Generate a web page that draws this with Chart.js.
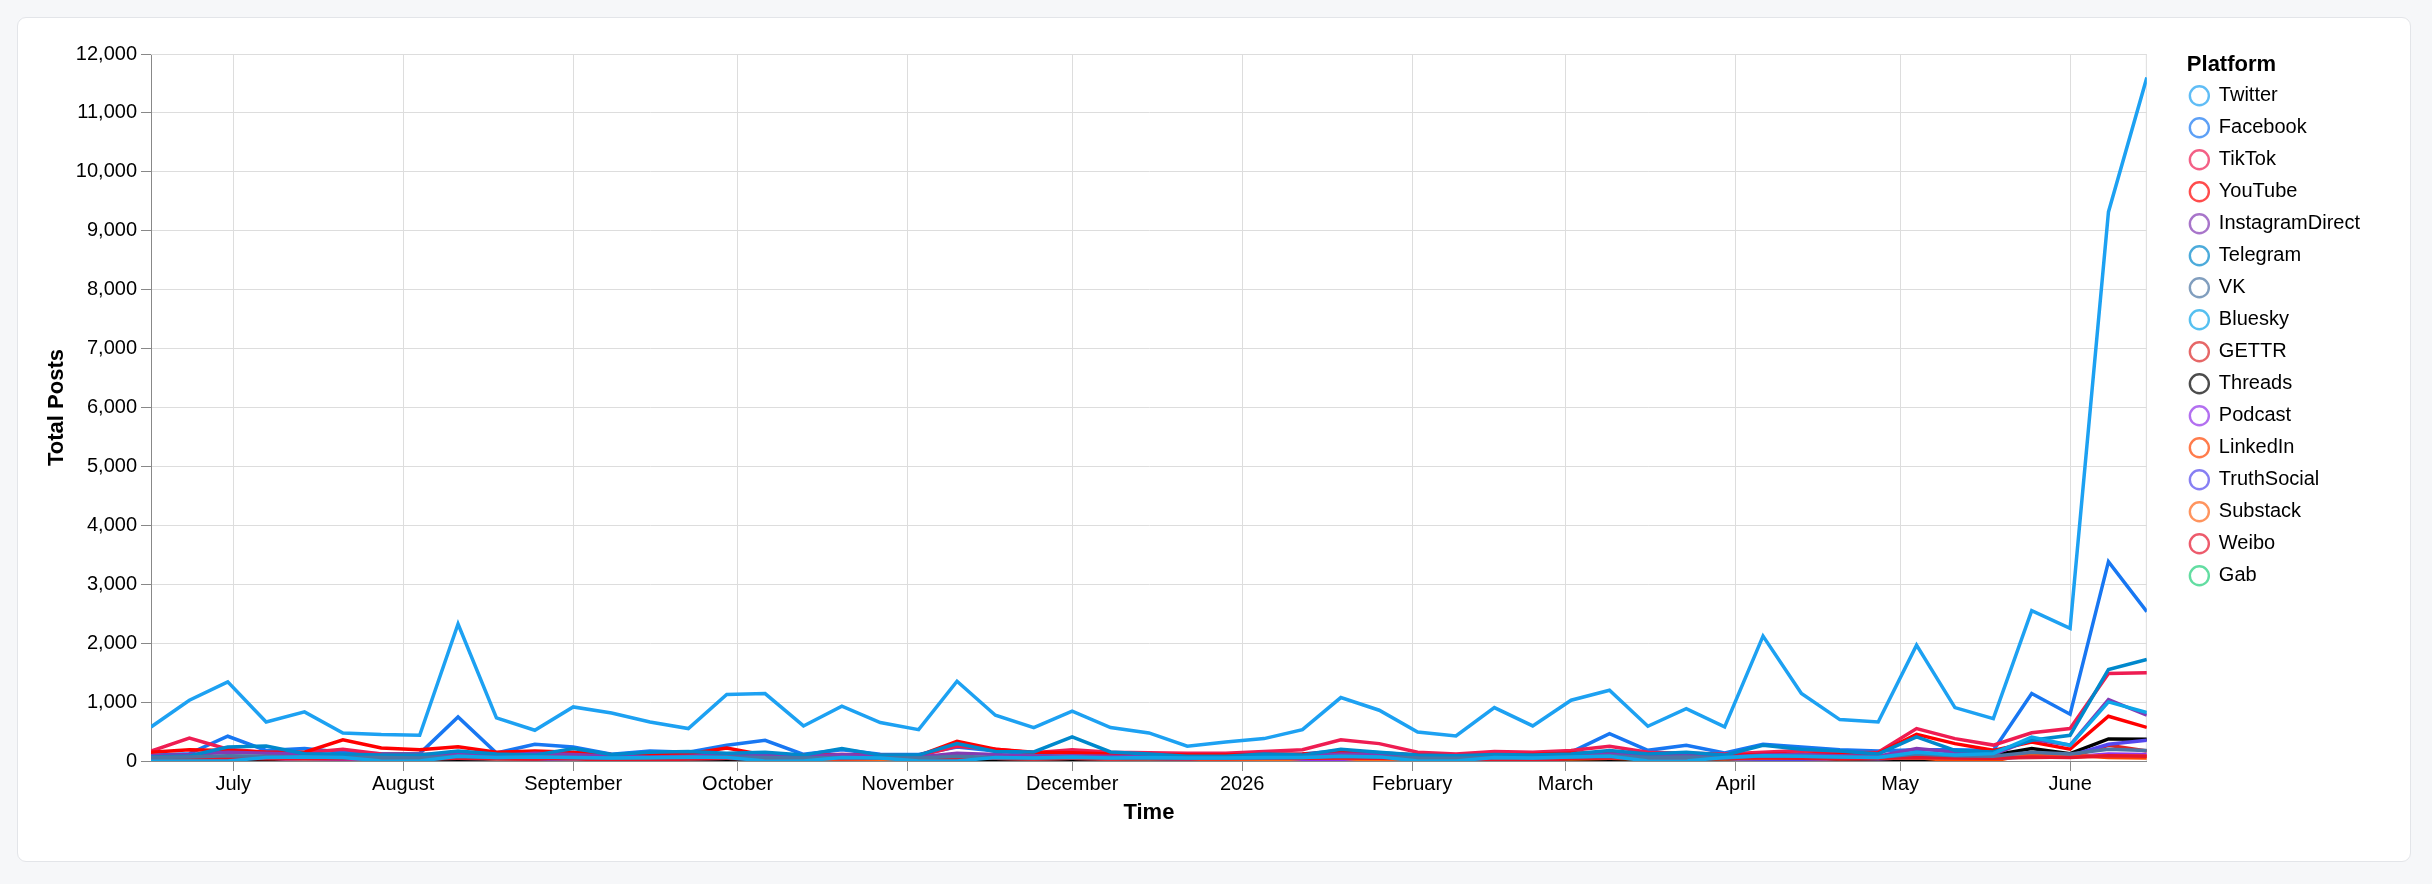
<!DOCTYPE html>
<html>
<head>
<meta charset="utf-8">
<title>Total Posts by Platform</title>
<script src="https://cdn.jsdelivr.net/npm/chart.js@4.4.1/dist/chart.umd.min.js"></script>
<style>
  html, body { margin: 0; padding: 0; background: #f6f7f9; }
  body { width: 2432px; height: 884px; position: relative; overflow: hidden; }
  .card { position: absolute; left: 17px; top: 17px; width: 2394px; height: 845px; box-sizing: border-box;
          background: #fff; border: 1px solid #e3e5e9; border-radius: 9px; }
  #chart { position: absolute; left: 0; top: 0; }
</style>
</head>
<body>
<div class="card"></div>
<canvas id="chart" width="2432" height="884"></canvas>
<script>
// weekly buckets (Mondays)
const weeks = [
  "2025-06-16", "2025-06-23", "2025-06-30", "2025-07-07", "2025-07-14", "2025-07-21", "2025-07-28",
  "2025-08-04", "2025-08-11", "2025-08-18", "2025-08-25", "2025-09-01", "2025-09-08", "2025-09-15",
  "2025-09-22", "2025-09-29", "2025-10-06", "2025-10-13", "2025-10-20", "2025-10-27", "2025-11-03",
  "2025-11-10", "2025-11-17", "2025-11-24", "2025-12-01", "2025-12-08", "2025-12-15", "2025-12-22",
  "2025-12-29", "2026-01-05", "2026-01-12", "2026-01-19", "2026-01-26", "2026-02-02", "2026-02-09",
  "2026-02-16", "2026-02-23", "2026-03-02", "2026-03-09", "2026-03-16", "2026-03-23", "2026-03-30",
  "2026-04-06", "2026-04-13", "2026-04-20", "2026-04-27", "2026-05-04", "2026-05-11", "2026-05-18",
  "2026-05-25", "2026-06-01", "2026-06-08", "2026-06-15"
];

const monthTicks = ["2025-07-01", "2025-08-01", "2025-09-01", "2025-10-01", "2025-11-01", "2025-12-01",
  "2026-01-01", "2026-02-01", "2026-03-01", "2026-04-01", "2026-05-01", "2026-06-01"];
const monthLabels = ["July", "August", "September", "October", "November", "December",
  "2026", "February", "March", "April", "May", "June"];

const platforms = ["Twitter", "Facebook", "TikTok", "YouTube", "InstagramDirect", "Telegram", "VK", "Bluesky",
  "GETTR", "Threads", "Podcast", "LinkedIn", "TruthSocial", "Substack", "Weibo", "Gab"];

const twitter = [578, 1032, 1344, 663, 833, 476, 448, 437, 2325, 731, 522, 918, 816, 663, 550, 1128, 1145, 595,
  930, 652, 533, 1355, 777, 567, 845, 567, 476, 250, 323, 380, 533, 1077, 862, 493, 425, 907, 595, 1032, 1202,
  590, 890, 578, 2120, 1145, 703, 663, 1967, 907, 720, 2550, 2250, 9320, 11600];
const facebook = [96, 125, 420, 180, 210, 150, 125, 125, 748, 136, 283, 238, 113, 170, 150, 266, 350, 113,
  190, 113, 110, 238, 170, 120, 150, 113, 120, 100, 105, 110, 120, 180, 140, 100, 105, 110, 115, 150, 465,
  181, 266, 136, 283, 238, 193, 170, 193, 190, 180, 1145, 794, 3385, 2535];
const tiktok = [170, 390, 200, 150, 140, 200, 120, 110, 130, 100, 90, 100, 95, 90, 100, 120, 110, 100, 110,
  100, 90, 250, 200, 140, 190, 150, 140, 130, 130, 160, 190, 360, 295, 150, 120, 160, 150, 180, 250, 150, 130,
  120, 150, 180, 140, 150, 550, 380, 270, 480, 550, 1485, 1497];
const youtube = [150, 190, 180, 150, 150, 360, 220, 190, 240, 150, 170, 150, 110, 100, 120, 220, 100, 90, 100,
  90, 90, 335, 200, 150, 140, 120, 110, 100, 100, 110, 120, 150, 130, 100, 90, 100, 110, 130, 150, 120, 100,
  90, 110, 120, 110, 130, 453, 295, 181, 323, 200, 760, 570];
const instagramDirect = [90, 110, 150, 130, 120, 100, 90, 80, 110, 90, 130, 110, 80, 70, 80, 100, 90, 80, 110,
  90, 70, 130, 110, 80, 90, 80, 70, 60, 60, 80, 90, 120, 110, 70, 60, 80, 70, 90, 120, 80, 90, 70, 100, 110,
  90, 80, 210, 150, 110, 368, 270, 1043, 777];
const telegram = [70, 85, 238, 255, 125, 115, 100, 100, 170, 120, 100, 210, 110, 150, 160, 130, 150, 100, 210,
  100, 100, 295, 160, 153, 408, 153, 120, 80, 80, 120, 100, 200, 150, 100, 90, 110, 100, 120, 180, 120, 150,
  100, 266, 200, 170, 120, 408, 180, 153, 351, 437, 1554, 1724];
const vk = [60, 70, 90, 80, 70, 60, 60, 50, 80, 60, 70, 60, 50, 50, 60, 70, 60, 50, 60, 50, 50, 80, 60, 50, 60,
  50, 50, 45, 45, 50, 60, 80, 70, 50, 45, 60, 50, 70, 90, 60, 70, 50, 90, 80, 70, 60, 120, 90, 80, 150, 120,
  200, 180];
const bluesky = [0, 0, 0, 60, 70, 60, 0, 0, 80, 60, 70, 60, 50, 60, 70, 60, 0, 0, 60, 50, 0, 0, 60, 50, 70, 50,
  60, 50, 50, 60, 60, 80, 70, 0, 0, 60, 50, 70, 80, 0, 0, 60, 90, 80, 70, 60, 150, 100, 125, 408, 266, 1003, 822];
const gettr = [50, 60, 55, 50, 45, 50, 50, 45, 0, 0, 0, 0, 45, 50, 45, 50, 45, 50, 45, 50, 45, 55, 50, 45, 0,
  0, 0, 45, 40, 45, 50, 50, 45, 45, 40, 45, 50, 45, 0, 0, 45, 50, 45, 50, 45, 50, 70, 55, 50, 60, 68, 266, 170];
const threads = [40, 50, 0, 0, 0, 60, 50, 0, 0, 45, 50, 40, 45, 0, 0, 0, 0, 50, 40, 45, 50, 0, 0, 0, 0, 50, 0,
  0, 0, 0, 0, 0, 0, 45, 40, 50, 0, 0, 0, 45, 0, 0, 0, 0, 0, 0, 0, 0, 96, 210, 125, 374, 368];
const podcast = [60, 70, 80, 60, 0, 0, 0, 50, 60, 50, 60, 50, 45, 50, 60, 50, 45, 50, 45, 50, 45, 60, 50, 45,
  50, 45, 45, 40, 40, 45, 0, 0, 50, 45, 40, 45, 50, 50, 60, 45, 50, 45, 50, 60, 50, 45, 80, 60, 50, 90, 70,
  120, 110];
const linkedIn = [45, 50, 50, 45, 40, 45, 45, 40, 50, 45, 45, 40, 40, 45, 45, 50, 45, 0, 0, 0, 0, 50, 45, 40,
  45, 40, 40, 40, 45, 40, 45, 50, 45, 40, 0, 0, 45, 40, 45, 40, 45, 40, 45, 50, 45, 40, 60, 0, 0, 125, 96, 60, 50];
const truthSocial = [45, 50, 45, 45, 40, 45, 45, 40, 45, 40, 45, 0, 0, 45, 40, 45, 40, 45, 40, 45, 40, 50, 45,
  40, 45, 40, 40, 40, 40, 45, 45, 50, 45, 40, 40, 45, 40, 45, 50, 45, 40, 45, 0, 0, 45, 40, 60, 50, 45, 70, 90,
  283, 351];
const substack = [45, 45, 50, 45, 40, 45, 40, 40, 45, 40, 45, 40, 40, 45, 40, 45, 40, 45, 0, 0, 45, 50, 45, 40,
  45, 40, 40, 45, 0, 0, 45, 50, 0, 0, 45, 40, 45, 40, 45, 40, 45, 40, 45, 45, 40, 45, 55, 50, 60, 80, 70, 90, 80];
const weibo = [45, 50, 45, 40, 45, 40, 45, 40, 50, 45, 40, 45, 0, 0, 40, 45, 40, 45, 40, 45, 40, 50, 45, 40, 45,
  40, 45, 40, 40, 45, 45, 50, 45, 40, 45, 0, 0, 45, 50, 45, 40, 45, 50, 45, 40, 45, 60, 50, 45, 70, 60, 90, 80];
const gab = [null, null, null, null, null, null, null, null, null, null, null, null, null, 0, 0, 0, null, null,
  null, null, null, null, null, null, null, null, null, null, null, null, null, null, null, null, null, null,
  null, null, null, null, null, null, null, null, null, null, null, null, null, null, null, null, null];

const seriesValues = [twitter, facebook, tiktok, youtube, instagramDirect, telegram, vk, bluesky,
  gettr, threads, podcast, linkedIn, truthSocial, substack, weibo, gab];

const platformColors = ["#1DA1F2", "#1877F2", "#EE1D52", "#FF0000", "#833AB4", "#0088CC", "#4C75A3", "#0EA5E9",
  "#DC2626", "#000000", "#9333EA", "#FF4500", "#5448EE", "#FF6719", "#E6162D", "#21CF7A"];

// big platforms drawn above the small ones, Gab at the very bottom
const drawOrder = [-20, -21, -22, -23, -24, -25, -26, -27, 10, 9, 8, 7, 6, 5, 4, 100];

const FONT = '"Liberation Sans", Arial, Helvetica, sans-serif';

function toMs(s) {
  const p = s.split('-').map(Number);
  return Date.UTC(p[0], p[1] - 1, p[2]);
}
function fade(hex, a) {
  const n = parseInt(hex.slice(1), 16);
  return 'rgba(' + (n >> 16) + ',' + ((n >> 8) & 255) + ',' + (n & 255) + ',' + a + ')';
}

const datasets = platforms.map((name, i) => ({
  label: name,
  data: weeks.map((w, k) => ({ x: toMs(w), y: seriesValues[i][k] })),
  borderColor: platformColors[i],
  backgroundColor: platformColors[i],
  borderWidth: 3.5,
  pointRadius: 0,
  pointHoverRadius: 0,
  tension: 0,
  fill: false,
  spanGaps: false,
  order: drawOrder[i]
}));

const framePlugin = {
  id: 'frame',
  beforeDatasetsDraw(chart) {
    const a = chart.chartArea;
    const ctx = chart.ctx;
    ctx.save();
    ctx.strokeStyle = '#ddd';
    ctx.lineWidth = 1;
    ctx.beginPath();
    ctx.moveTo(a.left, a.top + 0.5);
    ctx.lineTo(a.right - 0.5, a.top + 0.5);
    ctx.lineTo(a.right - 0.5, a.bottom);
    ctx.stroke();
    ctx.restore();
  }
};

const chart = new Chart(document.getElementById('chart'), {
  type: 'line',
  data: { datasets: datasets },
  plugins: [framePlugin],
  options: {
    responsive: false,
    devicePixelRatio: 1,
    animation: false,
    layout: { padding: { top: 54, bottom: 58, left: 0, right: 62 } },
    scales: {
      x: {
        type: 'linear',
        min: toMs(weeks[0]),
        max: toMs(weeks[weeks.length - 1]),
        afterBuildTicks: (s) => { s.ticks = monthTicks.map(m => ({ value: toMs(m) })); },
        afterFit: (s) => { s.height = 65; },
        ticks: {
          callback: (v, i) => monthLabels[i],
          autoSkip: false, maxRotation: 0, padding: 1,
          color: '#000', font: { family: FONT, size: 20 }
        },
        grid: { color: '#ddd', lineWidth: 1, tickColor: '#888', tickLength: 10 },
        border: { color: '#888', width: 1 },
        title: {
          display: true, text: 'Time', color: '#000',
          font: { family: FONT, size: 22, weight: 'bold' }, padding: { top: 0, bottom: 0 }
        }
      },
      y: {
        type: 'linear',
        min: 0,
        max: 12000,
        afterFit: (s) => { s.width = 151; },
        ticks: {
          stepSize: 1000, padding: 4,
          callback: (v) => v.toLocaleString('en-US'),
          color: '#000', font: { family: FONT, size: 20 }
        },
        grid: { color: '#ddd', lineWidth: 1, tickColor: '#888', tickLength: 10 },
        border: { color: '#888', width: 1 },
        title: {
          display: true, text: 'Total Posts', color: '#000',
          font: { family: FONT, size: 22, weight: 'bold' }, padding: { top: 44, bottom: 0 }
        }
      },
      gap: {
        type: 'linear',
        position: 'right',
        grid: { display: false },
        ticks: { display: false },
        border: { display: false },
        afterFit: (s) => { s.width = 31; }
      }
    },
    plugins: {
      tooltip: { enabled: false },
      legend: {
        position: 'right',
        align: 'start',
        title: {
          display: true, text: 'Platform', color: '#000', position: 'start', padding: 0,
          font: { family: FONT, size: 22, weight: 'bold', lineHeight: 0.9 }
        },
        labels: {
          usePointStyle: true,
          pointStyle: 'circle',
          pointStyleWidth: 19,
          boxHeight: 13.4,
          padding: 12,
          color: '#000',
          font: { family: FONT, size: 20 },
          generateLabels: (chart) => chart.data.datasets.map((ds, i) => ({
            text: ds.label,
            datasetIndex: i,
            fillStyle: 'rgba(255,255,255,0)',
            strokeStyle: fade(platformColors[i], 0.7),
            lineWidth: 2.4,
            pointStyle: 'circle',
            fontColor: '#000',
            hidden: false
          }))
        }
      }
    }
  }
});

// nudge the legend title so it lines up with the symbols, as in the original
const lg = chart.legend;
const titleFn = lg && (typeof lg.drawTitle === 'function' ? 'drawTitle' :
  (typeof lg._drawTitle === 'function' ? '_drawTitle' : null));
if (titleFn) {
  const drawTitle = lg[titleFn];
  lg[titleFn] = function () {
    this.ctx.save();
    this.ctx.translate(9, 0);
    drawTitle.call(this);
    this.ctx.restore();
  };
  chart.draw();
}
</script>
</body>
</html>
